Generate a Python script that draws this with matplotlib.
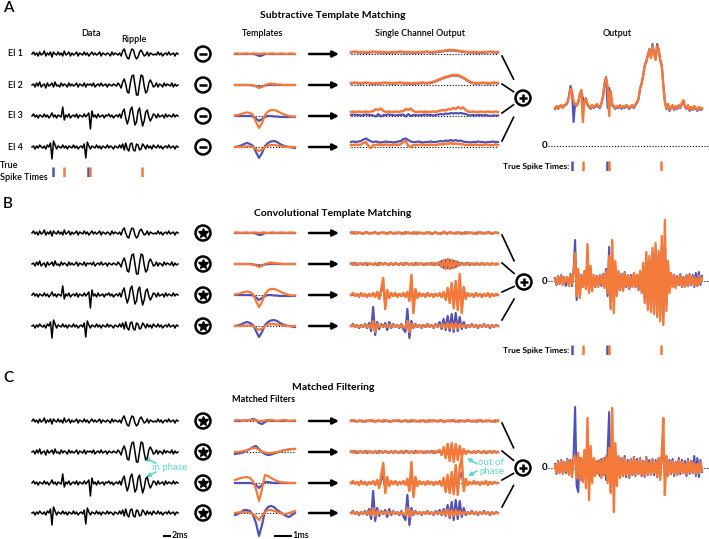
import numpy as np
import matplotlib
matplotlib.use("Agg")
import matplotlib.pyplot as plt
from matplotlib.patches import Circle

plt.rcParams["font.family"] = ["Lato", "DejaVu Sans"]

BLUE = "#5153b4"
ORANGE = "#f47a3a"
CYAN = "#62d4cb"

# raw recordings, 4 electrodes (same in every panel), ~px units
data_el1 = [0, 2, -1, 1, -2, 2, -1, 0, 3, -2, 1, -1, 2, -3, 2, 0, -1, 2, -1, 1,
            -2, 3, -1, 0, 2, -2, 1, -1, 0, 2, -2, 1, 0, -1, 2, -1, 1, -2, 0, 2,
            -1, 1, -1, 0, 2, -2, 1, 0, -1, 1, 0, -2, 2, -1, 1, 0, -1, 1, -2, 3,
            5, 0, -4, -5, 1, 5, 4, -2, -5, -3, 2, 4, 1, -2, -1, 2, -2, 1, 0, -1,
            0, -1, 2, -1, 1, -2, 0, 1, -1, 2, -1, 0, 1, -2, 1, 0]
data_el2 = [0, 1, -2, 2, -1, 3, -2, 0, 1, -3, 2, -1, 0, 2, -2, 3, -1, 0, -2, 2,
            -1, 1, 0, -2, 2, -1, 1, -1, 0, 2, -2, 1, 0, -1, 2, -2, 1, 0, 1, -1,
            2, -2, 0, 1, -1, 2, -1, 0, 1, -2, 1, 0, -1, 1, 0, -1, 2, 0, -3, 3,
            6, 1, -7, -8, 2, 9, 10, 0, -10, -10, 1, 10, 9, -1, -8, -6, 2, 5, 2, -2,
            -1, 2, -2, 1, 0, -2, 2, -1, 1, 0, -1, 2, -2, 1, -1, 0]
data_el3 = [0, 2, -1, 1, -2, 1, 0, -1, 2, -1, 1, -2, 0, 3, -1, 1, -2, 1, 0, -1,
            9, -4, 1, -1, 2, -2, 0, 1, -1, 2, -2, 1, 0, -1, 2, -1, 1, 3, -13, 5,
            -1, 1, -2, 2, -1, 0, 1, -2, 1, 0, 2, -1, 1, -2, 0, 1, -1, 2, -2, 4,
            7, -2, -8, -3, 6, 9, 0, -9, -6, 5, 8, -2, -10, -5, 4, 6, -1, -5, -2, 2,
            1, -2, 2, -1, 0, 1, -2, 2, -1, 1, 0, -1, 2, -1, 1, 0]
data_el4 = [0, 1, -2, 1, -1, 2, 0, -1, 1, -2, 2, 0, 4, -12, 6, 2, -2, 1, 0, -1,
            2, -1, 1, -2, 1, 0, -1, 2, -1, 1, -2, 0, 1, -1, 3, -11, 5, 1, -2, 1,
            0, -1, 2, -1, 1, -2, 1, 0, -1, 2, -1, 1, 0, -2, 1, 0, -1, 2, -1, 3,
            -3, 4, -2, -4, 3, 4, -3, -4, 3, 2, -3, -2, 3, 1, -2, 2, -1, 1, -2, 2,
            0, -1, 2, -1, 1, -2, 0, 1, -1, 2, -1, 0, 1, -2, 1, 0]
recordings = [data_el1, data_el2, data_el3, data_el4]

# true spike times, in samples of the recordings
spikes_blue = [13.7, 36.4]
spikes_orange = [20.8, 37.7, 71.6]

# templates (panels A, B)
tmpl_blue = [
    [0, 0, 0, 0, 0, 0, 0, -0.5, -2, -1.5, 0, 0, 0, 0, 0, 0, 0, 0, 0, 0, 0],
    [0, 0, 0, 0, 0, 0, -0.5, -1, -2, -1.5, -0.5, 0, 0.5, 0.5, 0, 0, 0, 0, 0, 0, 0],
    [0, 0, 0, 0, 0, 0, -0.5, -2.5, -5, -3, -1, 0, 0, -0.5, -0.5, -1, -1, -1, -1, -1, -1],
    [0, 0.5, 1.5, 3, 4, 3, 1, -5, -11, -6, 1, 4, 5.5, 6, 5, 3, 1.5, 0.5, 0, -0.5, -1],
]
tmpl_orange = [
    [0.5, 0.5, 0, 0.5, 0.5, 0, 0.5, 0.5, 0, 0.5, 0.5, 0, 0.5, 0.5, 0, 0.5, 0.5, 0, 0.5, 0.5, 0],
    [0, 0, 0, 0, 0, 0, -0.5, -1.5, -3, -2, 0, 1, 1.5, 1, 0.5, 0.5, 0, 0, 0, 0, 0],
    [0.5, 1, 2, 3, 3.5, 3, 1, -6, -12, -7, 1, 4.5, 6, 6, 5, 3.5, 2, 1, 0, -0.5, -0.5],
    [0, 0, 0, 0.5, 0.5, 0.5, 0, -2, -4, -2.5, 0, 1.5, 2, 2, 1.5, 1, 0.5, 0, 0, 0, 0],
]
# matched filters (panel C)
filt_blue = [
    [0, 0, 0, 0.5, 0.5, 1, 2, 1, -2, -3, -1, 1, 0.5, 0, 0, 0, 0, 0.5, 0, 0, 0],
    [-2, -1.5, -1, 0, 1.5, 3, 5, 6, 3, 0, -2, -3, -2.5, -1.5, -0.5, 0.5, 1.5, 2, 2.5, 3, 3],
    [0, 0, 0, 0, 0, 0, -0.5, -2, -5, -2, 1, 1, 0.5, 0, 0, 0, 0, 0, 0, 0, 0],
    [-2, -1, 1, 3, 3, 2, -2, -10, -23, -12, 2, 6, 7, 6, 3, 1, -1, -3, -4, -2, 0],
]
filt_orange = [
    [0.5, 1, 0.5, 0, 0.5, 1, 1, 0.5, 0, 0, 0.5, 1, 1, 0.5, 0, 0.5, 1, 0.5, 0, 0.5, 0.5],
    [0, 0, 0.5, 1, 2, 3, 4, 4, 2, 0.5, -0.5, -1, -1, -0.5, 0, 0.5, 1.5, 2, 2.5, 3, 3],
    [3, 4, 5, 5.5, 6, 5, 2, -6, -18, -6, 8, 7, 5, 3.5, 2, 1, 0.5, 0.5, 0, 0, 0],
    [0, 0.5, 1, 1, 1, 0, -1, -4, -7, -3, 1, 3, 3, 2, 1, 0, -1, -1, 0, 1, 2],
]

# single channel outputs, subtractive (A)
sub_blue = [
    [1.5, 2, 1.5, 1.5, 1, 1.5, 2, 1.5, 1.5, 1.5, 1, 1.5, 1.5, 2, 1.5, 1.5, 1.5, 1, 1.5, 1.5,
     2, 1.5, 1.5, 2, 2.5, 3, 3.5, 3.5, 3, 2.5, 2, 1.5, 1.5, 1.5, 1, 1.5, 1.5, 2, 1.5, 1.5],
    [1.5, 2, 1.5, 1.5, 2, 1.5, 1, 1.5, 1.5, 2, 1.5, 1.5, 1.5, 2, 1.5, 1.5, 1, 1.5, 1.5, 2,
     1.5, 2, 3, 4.5, 6, 7.5, 8.5, 9.5, 9.5, 8.5, 6.5, 4, 2, 1.5, 1.5, 2, 1.5, 1.5, 2, 1.5],
    [1, 1.5, 1, 1, 0.5, 1, 1.5, 1, 1, 0.5, -0.5, 2, -0.5, 1, 1, 1.5, 1, 1, 0.5, 1,
     1, 1.5, -0.5, 2, 0, 1, 1, 0.5, 1, 1, 1.5, 1, 1, 0.5, 1, 1.5, 2, 1.5, 2.5, 2,
     3, 2.5, 3, 2.5, 3, 2.5, 2, 1, 0.5, 1, 0.5, 1, 1, 0.5, 1, 0.5, 0, 0.5, 0.5, 0.5],
    [5, 5.5, 5, 5.5, 6, 7.5, 8.5, 7, 5.5, 5, 5.5, 5, 4.5, 5, 5.5, 5, 5, 4.5, 5, 5.5,
     6, 8, 8.5, 7, 5.5, 5, 5, 5.5, 5, 4.5, 5, 5, 5.5, 5, 5, 5.5, 6, 5.5, 6.5, 6,
     7, 6, 7, 6, 6.5, 5.5, 5, 5, 4.5, 5, 5, 5.5, 5, 5, 4.5, 5, 5, 5.5, 5, 5],
]
sub_orange = [
    [2, 2.5, 2, 2, 1.5, 2, 2.5, 2, 2, 2, 1.5, 2, 2, 2.5, 2, 2, 2, 1.5, 2, 2,
     2.5, 2, 2, 2.5, 3, 3.5, 4, 4, 3.5, 3, 2.5, 2, 2, 2, 1.5, 2, 2, 2.5, 2, 2],
    [2, 2.5, 2, 2, 2.5, 2, 1.5, 2, 2, 2.5, 2, 2, 2, 2.5, 2, 2, 1.5, 2, 2, 2.5,
     2, 2.5, 3.5, 5, 6.5, 8, 9, 10, 10, 9, 7, 4.5, 2.5, 2, 2, 2.5, 2, 2, 2.5, 2],
    [4, 4.5, 4, 4.5, 4, 4, 4.5, 4, 4.5, 5, 7, 6, 7.5, 5, 4, 4.5, 4, 4, 4.5, 4,
     4.5, 5, 7, 6, 7.5, 5, 4, 4, 4.5, 4, 4.5, 4, 4, 4.5, 4, 5, 5.5, 6, 5.5, 7,
     6.5, 8, 7, 9, 7.5, 8.5, 6, 4.5, 4, 4.5, 4, 4, 4.5, 4, 4, 4.5, 4, 4, 4.5, 4],
    [2, 2, 2.5, 2, 2.5, 4, 5, 1, -1, 2, 2, 2.5, 2, 2, 2.5, 2, 2, 2, 2.5, 2,
     3, 5, 6, 1, 0, 2, 2, 2, 2.5, 2, 2, 2, 2.5, 2, 2, 2.5, 3, 2.5, 3.5, 3,
     4, 3, 3.5, 3, 3, 2.5, 2, 2, 2, 2, 2.5, 2, 2, 2, 2.5, 2, 2, 2, 2.5, 2],
]

# single channel outputs, convolutional (B)
conv_blue = [
    [0.5, -0.5, 0.5, 0, -0.5, 0.5, -0.5, 0, 0.5, -0.5, 0, 0.5, -0.5, 0.5, 0, -0.5, 0.5, 0, -0.5, 0.5,
     0, -0.5, 0.5, 0, -0.5, 0.5, 0, -0.5, 0.5, -0.5, 0, 0.5, -0.5, 0.5, 0, -0.5, 0.5, 0, -0.5, 0.5,
     0, -0.5, 0.5, 0, -0.5, 0.5, 0, -0.5, 0.5, 0],
    [0.5, -0.5, 1, -1, 0.5, 0, -0.5, 1, -1, 0.5, 0, -0.5, 0.5, -1, 1, 0, -0.5, 1, -0.5, 0,
     0.5, -1, 1, -0.5, 0, 0.5, -1, 1, 0, -0.5, 0.5, -1, 1, -0.5, 0, 0.5, -1, 0.5, 0, -0.5,
     1, -1, 0.5, 0, -1, 3, -4, 4, -4, 4, -4, 3, -3, 2, -1, 1, 0, -0.5, 1, -1,
     0.5, 0, -0.5, 0.5, -1, 1, 0, -0.5, 0.5, -1, 0.5, 0, -0.5, 0],
    [0, 1, -1, 1, -1, 1, -1, 0, -1, 1, -1, 1, -1, 2, -3, 4, 10, -8, 3, -2,
     1, -1, 1, -1, 1, -1, 1, -1, 2, -4, 12, -10, 4, -2, 1, -1, 1, -1, 1, -1,
     1, -1, 1, -1, 1, -2, 2, -3, 4, -5, 7, -8, 8, -9, 12, -10, 5, -2, 1, -1,
     1, -1, 1, -1, 1, -1, 1, -1, 1, -1, 1, -1, 1, 0],
    [0, 2, -1, 1, -2, 1, -1, 2, -2, 3, -5, 19, -9, 4, -3, 2, -1, 3, -4, 4,
     -2, 2, -1, 1, -2, 2, -3, -6, 17, -12, 5, -2, 2, -1, 1, -2, 1, -1, 2, -1,
     1, -2, 2, -1, 4, -3, 7, -4, 10, -5, 12, -6, 13, -5, 9, -3, 4, -2, 1, -1,
     2, -1, 1, -2, 1, -1, 2, -1, 1, -2, 1, -1, 1, 0],
]
conv_orange = [
    [0, 1, -0.5, 0.5, -1, 1, 0, -0.5, 1, -1, 0.5, 0, -1, 1, -0.5, 0.5, 0, -1, 1, 0,
     -0.5, 1, -1, 0.5, 0, -0.5, 1, -1, 0.5, 0, -1, 1.5, -1, 1, -0.5, 0.5, 0, -1, 1, -0.5,
     0.5, 0, -1, 1, 0, -0.5, 1, -1, 0.5, 0],
    [0, 1, -1, 0.5, -0.5, 1, -1, 0, 1, -0.5, 0.5, -1, 1, 0, -1, 1, -0.5, 0.5, 0, -1,
     1, -0.5, 0.5, 0, -1, 1, 0, -0.5, 1, -1, 0.5, 0, -1, 1, -0.5, 0.5, 0, -1, 1, 0,
     -0.5, 1, -1, 0.5, 2, -3, 4, -5, 5, -5, 4, -4, 3, -2, 1, 0, -1, 1, -0.5, 0.5,
     0, -1, 1, 0, -0.5, 1, -1, 0.5, 0, -1, 1, -0.5, 0.5, 0],
    [0, 2, -1, 1, -2, 2, -1, 1, -2, 1, -1, 2, -2, 3, -4, 6, 17, -14, 5, -3,
     2, -1, 2, -2, 1, -1, 2, -2, 3, -6, 20, -18, 6, -3, 2, -1, 1, -2, 2, -1,
     1, -2, 1, -1, 2, -2, 3, -5, 7, -8, 12, -13, 14, -15, 21, -18, 8, -4, 2, -1,
     1, -2, 2, -1, 1, -2, 1, -1, 2, -2, 1, -1, 1, 0],
    [0, 1, -1, 0.5, -1, 1, -0.5, 1, -1, 1, -2, 5, -6, 2, -1, 1, -0.5, 1, -1, 1,
     -0.5, 1, -0.5, 0.5, -1, 1, -1, -2, 5, -6, 2, -1, 1, -0.5, 0.5, -1, 1, -0.5, 1, -0.5,
     0.5, -1, 1, -0.5, 1, -1, 2, -2, 3, -2, 3, -3, 3, -2, 2, -1, 1, -0.5, 0.5, -1,
     1, -0.5, 0.5, -1, 1, -0.5, 1, -0.5, 0.5, -1, 0.5, -0.5, 0.5, 0],
]

# single channel outputs, matched filtering (C)
mf_blue = [
    [0.5, 0, -0.5, 0.5, 0, -0.5, 0.5, 0, -0.5, 0.5, 0, -0.5, 0.5, -0.5, 0, 0.5, 0, -0.5, 0.5, 0,
     -0.5, 0.5, 0, -0.5, 0.5, 0, -0.5, 0.5, 0, -0.5, 0.5, -0.5, 0, 0.5, 0, -0.5, 0.5, 0, -0.5, 0.5,
     0, -0.5, 0.5, 0, -0.5, 0.5, 0, -0.5, 0.5, 0],
    [0.5, -0.5, 1, -1, 0.5, 0, -0.5, 1, -1, 0.5, 0, -0.5, 0.5, -1, 1, 0, -0.5, 1, -0.5, 0,
     0.5, -1, 1, -0.5, 0, 0.5, -1, 1, 0, -0.5, 0.5, -1, 1, -0.5, 0, 0.5, -1, 0.5, 0, -0.5,
     1, -1, 0.5, 0, 1, -2, 3, -4, 5, -5, 5, -6, 5, -4, 4, -3, 2, -1, 1, 0,
     -0.5, 0.5, -1, 1, 0, -0.5, 0.5, -1, 0.5, 0, -0.5, 1, -0.5, 0],
    [0, 1, -1, 1, -1, 1, -1, 0, -1, 1, -1, 1, -1, 2, -2, 3, 7, -5, 3, -2,
     1, -1, 1, -1, 1, -1, 1, -1, 2, -3, 8, -6, 3, -2, 1, -1, 1, -1, 1, -1,
     1, -1, 1, -1, 1, -2, 2, -4, 4, -5, 6, -6, 8, -6, 7, 10, -4, 2, -1, 1,
     -1, 1, -1, 1, -1, 1, -1, 1, -1, 1, -1, 1, 0, 0],
    [0, 2, -1, 1, -2, 1, -1, 2, -2, 4, -6, 22, -8, 5, -3, 2, -1, 3, -4, 4,
     -2, 2, -1, 1, -2, 2, -3, -7, 18, -12, 5, -2, 2, -1, 1, -2, 1, -1, 2, -1,
     1, -2, 2, -1, 3, -2, 4, -3, 8, -5, 11, -7, 13, -6, 12, -4, 5, -2, 1, -1,
     2, -1, 1, -2, 1, -1, 2, -1, 1, -2, 1, -1, 1, 0],
]
mf_orange = [
    [0, 1, -0.5, 0.5, -1, 0.5, 0, 1, -1, 0.5, -0.5, 1, 0, -1, 0.5, 0, 1, -0.5, 0.5, -1,
     1, 0, -0.5, 0.5, 0, -1, 1, -0.5, 0.5, 0, 1, -1, 0.5, -0.5, 1, 0, -1, 0.5, 0, 1,
     -0.5, 0.5, -1, 1, 0, -0.5, 0.5, 0, -1, 0.5],
    [0, 1, -1, 0.5, -0.5, 1, -1, 0, 1, -0.5, 0.5, -1, 1, 0, -1, 1, -0.5, 0.5, 0, -1,
     1, -0.5, 0.5, 0, -1, 1, 0, -0.5, 1, -1, 0.5, 0, -1, 1, -0.5, 0.5, 0, -1, 1, 0,
     -0.5, 1, -1, 0.5, 2, -3, 5, -6, 8, -9, 9, -10, 8, -8, 6, -5, 3, -2, 1, 0,
     -1, 1, -0.5, 0.5, 0, -1, 1, 0, -0.5, 1, -1, 0.5, 0, 0],
    [0, 2, -1, 1, -2, 2, -1, 1, -2, 1, -1, 2, -2, 3, -5, 8, 20, -10, 6, -3,
     2, -1, 2, -2, 1, -1, 2, -2, 4, -8, 21, -14, 6, -3, 2, -1, 1, -2, 2, -1,
     1, -2, 1, -1, 2, -3, 5, -9, 8, -10, 11, -11, 18, -12, 16, 25, -8, 4, -2, 1,
     -1, 2, -1, 1, -2, 1, -1, 2, -2, 1, -1, 1, 0, 0],
    [0, 1, -1, 0.5, -1, 1, -0.5, 1, -1, 2, -2, 5, -3, 2, -1, 1, -0.5, 1, -1, 1,
     -0.5, 1, -0.5, 0.5, -1, 1, -1, -2, 5, -4, 2, -1, 1, -0.5, 0.5, -1, 1, -0.5, 1, -0.5,
     0.5, -1, 1, -0.5, 1, -1, 2, -2, 3, -3, 3, -3, 3, -2, 2, -1, 1, -0.5, 0.5, -1,
     1, -0.5, 0.5, -1, 1, -0.5, 1, -0.5, 0.5, -1, 0.5, -0.5, 0.5, 0],
]

# summed outputs
out_sub_blue = [37, 39, 38, 40, 40, 39, 41, 41, 43, 50, 60, 54, 24, 42, 41, 43, 50, 54, 48, 44,
                46, 41, 39, 37, 40, 38, 39, 41, 39, 38, 42, 49, 63, 69, 38, 58, 50, 41, 39, 37,
                39, 38, 40, 37, 39, 38, 40, 39, 37, 39, 40, 38, 41, 43, 47, 57, 63, 71, 81, 85,
                91, 97, 89, 102, 93, 87, 102, 97, 86, 81, 61, 45, 37, 41, 35, 38, 40, 36, 39, 37,
                40, 38, 42, 45, 39, 37, 40, 35, 38, 36, 39, 37, 35, 38, 36, 37]
out_sub_orange = [38, 40, 37, 39, 41, 38, 40, 42, 44, 48, 57, 55, 45, 42, 40, 44, 52, 56, 24, 45,
                  48, 42, 40, 38, 41, 39, 40, 42, 40, 39, 43, 50, 62, 68, 60, 30, 55, 42, 40, 38,
                  40, 39, 41, 38, 40, 39, 41, 40, 38, 40, 41, 39, 42, 44, 48, 58, 62, 70, 80, 84,
                  90, 96, 88, 100, 92, 86, 100, 96, 85, 80, 60, 44, 38, 42, 36, 39, 41, 37, 40, 38,
                  41, 39, 43, 46, 40, 38, 41, 36, 39, 37, 40, 38, 36, 39, 37, 38]
out_conv_blue = [3, -4, 5, -3, 6, -2, 4, -5, 3, -4, 7, -5, 10, 41, -19, 8, -12, 6, -4, 5,
                 -6, 12, -8, 7, -5, 4, -6, 5, -4, 6, -5, 7, -6, 12, -15, 34, -27, 22, -20, 14,
                 -10, 8, -9, 7, -8, 9, -6, 5, -8, 6, -5, 7, -6, 5, -9, 8, -10, 14, -18, 22,
                 -24, 20, -26, 28, -28, 30, -30, 26, -34, 36, -36, 40, -22, 14, -9, 7, -5, 6, -6, 5,
                 -4, 7, -6, 4, -5, 6, -5, 7, -4, 6, -6, 8, -5, 9, -4, 5]
out_conv_orange = [2, -3, 4, -2, 5, -4, 3, -1, 4, -5, 6, -3, 8, 28, -15, 12, -17, 5, -6, 10,
                   -8, 37, -12, 15, -10, 6, -5, 4, -6, 5, -3, 6, -7, 10, -12, 25, -28, 41, -32, 20,
                   -15, 10, -8, 6, -10, 8, -5, 6, -7, 4, -6, 8, -5, 6, -8, 10, -12, 18, -22, 29,
                   -29, 25, -31, 33, -33, 38, -36, 30, -40, 45, -44, 61, -30, 20, -12, 8, -6, 5, -7, 4,
                   -3, 6, -5, 3, -6, 5, -4, 6, -3, 4, -5, 3, -4, 5, -2, 3]
out_mf_blue = [4, -6, 7, -5, 8, -4, 6, -5, 9, -6, 8, -7, 12, 61, -18, -24, 10, -12, 8, -6,
               9, -8, 7, -6, 8, -7, 6, -5, 7, -8, 9, -7, 10, -12, 15, 56, -24, 18, -20, 12,
               -10, 11, -9, 10, -8, 12, -9, 8, -10, 9, -7, 11, -8, 9, -6, 10, -8, 7, -9, 11,
               -7, 8, -6, 9, -7, 8, -9, 10, -8, 12, 15, -10, 9, -7, 8, -6, 9, -8, 6, -7,
               10, -6, 8, -5, 7, -8, 9, -6, 7, -5, 12, -8, 10, -9, 8, -4]
out_mf_orange = [3, -5, 6, -4, 7, -6, 5, -3, 8, -7, 6, -9, 10, 12, -10, 15, -12, 10, -14, 18,
                 -20, 50, -32, 22, -15, 10, -8, 7, -6, 8, -10, 9, -7, 12, -15, 20, -25, 60, -44, 25,
                 -18, 12, -10, 9, -8, 10, -7, 6, -9, 8, -6, 10, -8, 7, -5, 9, -7, 6, -8, 10,
                 -6, 5, -7, 8, -5, 6, -8, 10, -12, 15, 50, -27, 12, -8, 6, -5, 7, -6, 5, -7,
                 8, -4, 6, -5, 4, -6, 7, -5, 6, -4, 5, -6, 4, -5, 6, -3]

W, H = 709, 539
fig = plt.figure(figsize=(W / 100, H / 100), dpi=100)


def px_axes(x0, x1, y_top, y_bot):
    # axes placed by pixel box (y measured from the top)
    ax = fig.add_axes([x0 / W, 1 - y_bot / H, (x1 - x0) / W, (y_bot - y_top) / H])
    ax.set_ylim(y_top - y_bot, 0)
    ax.axis("off")
    return ax


def trace_axes(x0, x1, yc, half=15):
    ax = px_axes(x0, x1, yc - half, yc + half)
    ax.set_ylim(-half, half)
    return ax


def draw(ax, vals, color, lw):
    ax.plot(np.arange(len(vals)), vals, color=color, lw=lw, clip_on=False,
            solid_joinstyle="round")
    ax.set_xlim(0, len(vals) - 1)


def dotted_zero(ax, x0=0, x1=1):
    ax.axhline(0, x0, x1, color="k", lw=0.8, ls=(0, (1, 1.6)), clip_on=False, zorder=0)


ov = fig.add_axes([0, 0, 1, 1])
ov.set_xlim(0, W)
ov.set_ylim(H, 0)
ov.axis("off")

panels = [
    dict(letter="A", ly=8, title="Subtractive Template Matching", ty=16,
         rows=[54, 85, 116, 147], op="minus", tb=tmpl_blue, to=tmpl_orange,
         sb=sub_blue, so=sub_orange, ob=out_sub_blue, oo=out_sub_orange,
         zero=146, up=106, down=6, plus=(523, 98), spk_y=166),
    dict(letter="B", ly=204, title="Convolutional Template Matching", ty=214,
         rows=[233, 264, 295, 326], op="star", tb=tmpl_blue, to=tmpl_orange,
         sb=conv_blue, so=conv_orange, ob=out_conv_blue, oo=out_conv_orange,
         zero=281, up=66, down=54, plus=(524, 282), spk_y=350),
    dict(letter="C", ly=378, title="Matched Filtering", ty=387,
         rows=[421, 452, 483, 513], op="star", tb=filt_blue, to=filt_orange,
         sb=mf_blue, so=mf_orange, ob=out_mf_blue, oo=out_mf_orange,
         zero=468, up=68, down=52, plus=(523, 468), spk_y=None),
]

for p in panels:
    ov.text(3, p["ly"], p["letter"], fontsize=11, weight="semibold", va="center", ha="left")
    ov.text(333, p["ty"], p["title"], fontsize=7.5, weight="bold", ha="center", va="center")
    rows = p["rows"]
    for k, y in enumerate(rows):
        ax = trace_axes(32, 178, y)
        draw(ax, recordings[k], "k", 1.1)

        ov.add_patch(Circle((203, y), 7.5, fill=False, lw=1.8, color="k"))
        if p["op"] == "minus":
            ov.plot([199, 207], [y, y], color="k", lw=1.8, solid_capstyle="butt")
        else:
            ov.plot(203, y, marker="*", ms=7.5, color="k", mec="k")

        ax = trace_axes(235, 295, y)
        dotted_zero(ax)
        draw(ax, p["tb"][k], BLUE, 1.6)
        draw(ax, p["to"][k], ORANGE, 1.6)

        ov.annotate("", xy=(339, y), xytext=(309, y),
                    arrowprops=dict(arrowstyle="-|>", lw=1.8, color="k",
                                    mutation_scale=9, shrinkA=0, shrinkB=0))

        ax = trace_axes(351, 498, y)
        dotted_zero(ax)
        draw(ax, p["sb"][k], BLUE, 1.6)
        draw(ax, p["so"][k], ORANGE, 1.8)

    # lines into the summing node
    cx, cy = p["plus"]
    for y, dy in zip(rows, [2, -1, -3, -6]):
        sx, sy = 502, y + dy
        ov.plot([sx, sx + 0.55 * (cx - sx)], [sy, sy + 0.55 * (cy - sy)], color="k", lw=1.2)
    ov.add_patch(Circle((cx, cy), 7.5, fill=False, lw=1.8, color="k"))
    ov.plot([cx - 4, cx + 4], [cy, cy], color="k", lw=1.8, solid_capstyle="butt")
    ov.plot([cx, cx], [cy - 4, cy + 4], color="k", lw=1.8, solid_capstyle="butt")

    # summed output
    ax = px_axes(555, 702, p["zero"] - p["up"], p["zero"] + p["down"])
    ax.set_ylim(-p["down"], p["up"])
    dotted_zero(ax, -0.05, 1.05)
    ax.text(-0.072, 0, "0", transform=ax.get_yaxis_transform(), fontsize=7,
            weight="bold", ha="center", va="center")
    draw(ax, p["ob"], BLUE, 1.5)
    draw(ax, p["oo"], ORANGE, 1.7)

    if p["spk_y"] is not None:
        sy = p["spk_y"]
        ov.text(569, sy, "True Spike Times:", fontsize=6, weight="bold", ha="right", va="center")
        ax = px_axes(551, 697, sy - 5, sy + 5)
        ax.set_xlim(0, len(data_el1) - 1)
        ax.set_ylim(0, 1)
        ax.vlines(spikes_blue, 0, 1, color=BLUE, lw=1.8)
        ax.vlines(spikes_orange, 0, 1, color=ORANGE, lw=1.8)

# panel A column headers
hdr = dict(fontsize=6.5, ha="center", va="center", weight="semibold")
ov.text(91, 33, "Data", **hdr)
ov.text(134, 40, "Ripple", **hdr)
ov.text(263, 33, "Templates", **hdr)
ov.text(420, 33, "Single Channel Output", **hdr)
ov.text(617, 33, "Output", **hdr)
for k, y in enumerate(panels[0]["rows"]):
    ov.text(8, y, f"El {k + 1}", fontsize=6.5, ha="left", va="center", weight="semibold")
ov.text(0, 166, "True", fontsize=6.5, ha="left", va="center", weight="semibold")
ov.text(0, 178, "Spike Times", fontsize=6.5, ha="left", va="center", weight="semibold")
ax = px_axes(32, 178, 167, 177)
ax.set_xlim(0, len(data_el1) - 1)
ax.set_ylim(0, 1)
ax.vlines(spikes_blue, 0, 1, color=BLUE, lw=1.8)
ax.vlines(spikes_orange, 0, 1, color=ORANGE, lw=1.8)

# panel C extras
ov.text(264, 399, "Matched Filters", fontsize=6.5, ha="center", va="center", weight="bold")
ov.plot([164, 170], [536, 536], color="k", lw=1.5)
ov.text(172, 536, "2ms", fontsize=6.5, ha="left", va="center", weight="semibold")
ov.plot([275, 291], [536, 536], color="k", lw=1.5)
ov.text(292, 536, "1ms", fontsize=6.5, ha="left", va="center", weight="semibold")

arr = dict(arrowstyle="-|>", lw=1.2, color=CYAN, mutation_scale=6, shrinkA=0, shrinkB=0)
ov.text(152, 468, "in phase", fontsize=7, color=CYAN, ha="left", va="center")
ov.annotate("", xy=(144, 458), xytext=(156, 463), arrowprops=arr)
ov.annotate("", xy=(146, 477), xytext=(156, 472), arrowprops=arr)
ov.text(504, 467, "out of\nphase", fontsize=7, color=CYAN, ha="right", va="center",
        linespacing=1.0)
ov.annotate("", xy=(467, 458), xytext=(477, 464), arrowprops=arr)
ov.annotate("", xy=(468, 476), xytext=(477, 471), arrowprops=arr)

fig.savefig("out.png", dpi=100)
